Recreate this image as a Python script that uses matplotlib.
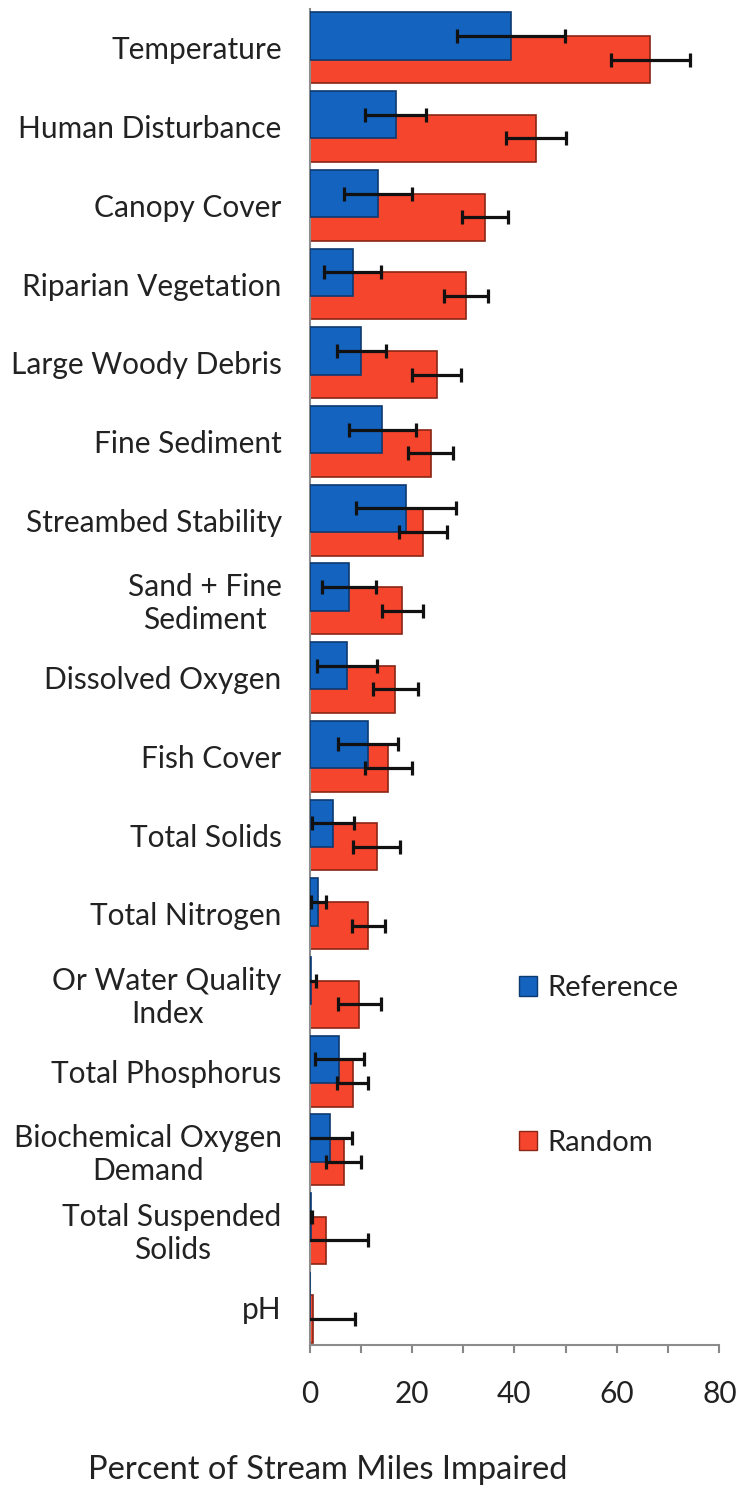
import numpy as np
import matplotlib
matplotlib.use('Agg')
import matplotlib.pyplot as plt
import matplotlib.patches as patches

plt.rcParams['font.family'] = ['Lato', 'DejaVu Sans']

# Impairment categories, top to bottom
categories = [
    'Temperature', 'Human Disturbance', 'Canopy Cover', 'Riparian Vegetation',
    'Large Woody Debris', 'Fine Sediment', 'Streambed Stability',
    'Sand + Fine\nSediment', 'Dissolved Oxygen', 'Fish Cover', 'Total Solids',
    'Total Nitrogen', 'Or Water Quality\nIndex', 'Total Phosphorus',
    'Biochemical Oxygen\nDemand', 'Total Suspended\nSolids', 'pH',
]

# Percent of stream miles impaired (reference sites)
reference = [39.3, 16.8, 13.4, 8.4, 10.1, 14.2, 18.8, 7.7, 7.3, 11.4, 4.5,
             1.7, 0.3, 5.8, 4.0, 0.2, 0.0]
reference_err = [10.5, 6.0, 6.7, 5.6, 4.8, 6.5, 9.8, 5.2, 5.8, 5.9, 4.1,
                 1.5, 1.0, 4.8, 4.2, 0.3, 0.0]

# Percent of stream miles impaired (random sites)
random_sites = [66.5, 44.2, 34.3, 30.5, 24.8, 23.7, 22.2, 18.1, 16.7, 15.4,
                13.1, 11.5, 9.7, 8.4, 6.7, 3.3, 0.7]
random_err = [7.7, 5.9, 4.5, 4.3, 4.7, 4.4, 4.7, 4.0, 4.4, 4.6, 4.6, 3.2,
              4.2, 3.0, 3.4, 8.2, 8.2]

blue = '#1463BE'
red = '#F5452D'
txt = '#222222'
fs = 21.5

fig = plt.figure(figsize=(7.38, 14.97), dpi=100)
ax = fig.add_axes([0.4194, 0.1015, 0.5553, 0.8928])

y = np.arange(len(categories))
h = 0.6
off = 0.15

ax.barh(y + off, random_sites, height=h, color=red, edgecolor='#8a2616',
        linewidth=1.2, zorder=2)
ax.barh(y - off, reference, height=h, color=blue, edgecolor='#0d3a70',
        linewidth=1.2, zorder=3)

ref_arr = np.array(reference)
ref_e = np.array(reference_err)
keep = ref_e > 0
ax.errorbar(ref_arr[keep], (y - off)[keep], xerr=ref_e[keep], fmt='none',
            ecolor='#111111', elinewidth=2.3, capsize=5, capthick=2.3, zorder=5)
ax.errorbar(random_sites, y + off, xerr=random_err, fmt='none',
            ecolor='#111111', elinewidth=2.3, capsize=5, capthick=2.3, zorder=5)

ax.set_xlim(0, 80)
ax.set_ylim(16.48, -0.5)
ax.set_xticks([0, 20, 40, 60, 80])
ax.set_xticks([10, 30, 50, 70], minor=True)

ax.set_yticks(y)
ax.set_yticklabels(categories, fontsize=fs, color=txt, ha='right',
                   multialignment='center')
ax.tick_params(axis='y', length=0, pad=20)
ax.tick_params(axis='x', which='both', direction='out', length=6, width=1.5,
               color='#888888', labelsize=fs, labelcolor=txt, pad=19)

for side in ['top', 'right']:
    ax.spines[side].set_visible(False)
for side in ['left', 'bottom']:
    ax.spines[side].set_color('#8c8c8c')
    ax.spines[side].set_linewidth(1.5)

handles = [patches.Patch(facecolor=blue, edgecolor='#0d3a70', label='Reference'),
           patches.Patch(facecolor=red, edgecolor='#8a2616', label='Random')]
ax.legend(handles=handles, loc='center left', bbox_to_anchor=(40.8, 12.93),
          bbox_transform=ax.transData, frameon=False, fontsize=21,
          handlelength=0.65, handleheight=0.65, handletextpad=0.33,
          labelspacing=4.4, borderpad=0, borderaxespad=0, labelcolor=txt)

fig.text(0.444, 0.018, 'Percent of Stream Miles Impaired', fontsize=23.5,
         color=txt, ha='center', va='center')

fig.savefig('out.png', dpi=100)
